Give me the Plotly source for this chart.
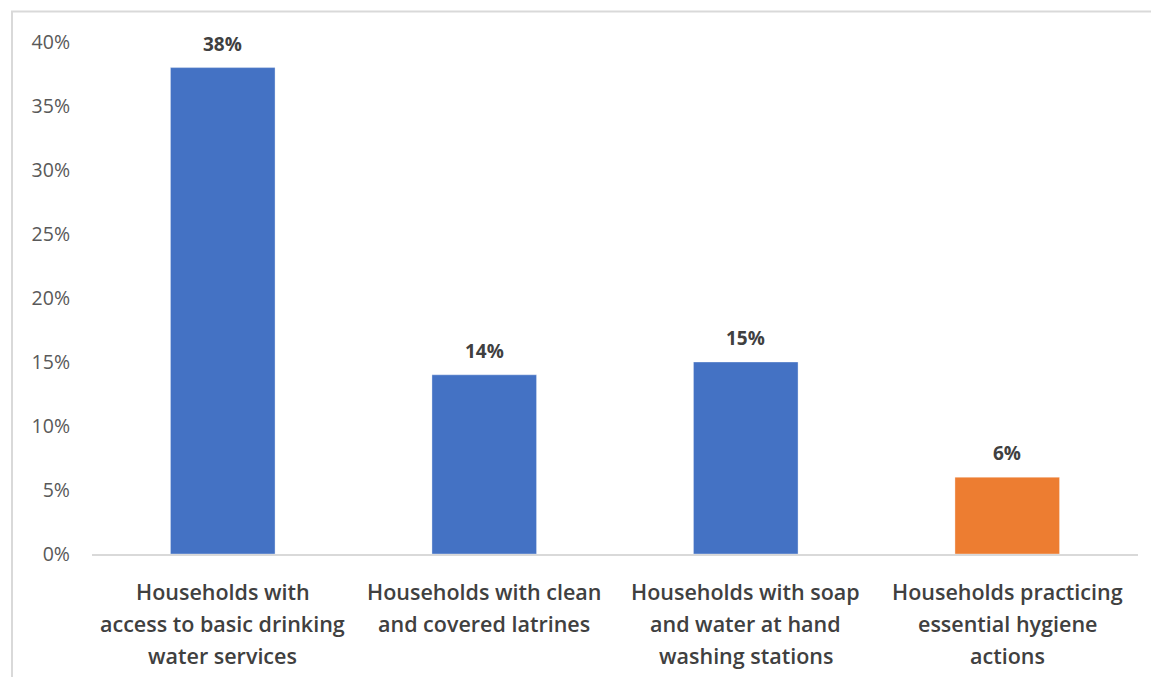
import plotly.graph_objects as go

# WASH indicators for surveyed households
categories = [
    "Households with<br>access to basic drinking<br>water services",
    "Households with clean<br>and covered latrines",
    "Households with soap<br>and water at hand<br>washing stations",
    "Households practicing<br>essential hygiene<br>actions",
]
shares = [0.38, 0.14, 0.15, 0.06]
bar_colors = ["#4472C4", "#4472C4", "#4472C4", "#ED7D31"]
y_ticks = [0, 0.05, 0.10, 0.15, 0.20, 0.25, 0.30, 0.35, 0.40]

W, H = 1151, 677
M_L, M_R, M_T, M_B = 92, 13, 42, 123
FONT = "Open Sans"

fig = go.Figure(
    go.Bar(
        x=list(range(len(categories))),
        y=shares,
        marker=dict(color=bar_colors, line=dict(color="rgba(255,255,255,0.35)", width=1)),
        width=0.4,
        hoverinfo="skip",
    )
)

# value labels above each bar
for i, v in enumerate(shares):
    fig.add_annotation(
        x=i, y=v, text=f"<b>{round(v * 100)}%</b>", showarrow=False,
        yanchor="bottom", yshift=9,
        font=dict(family=FONT, size=19, color="#404040"),
    )

# category labels, one line at a time for Excel-like line spacing
for i, lab in enumerate(categories):
    for j, line in enumerate(lab.split("<br>")):
        fig.add_annotation(
            x=i, y=0, yref="y", text=line, showarrow=False,
            yanchor="middle", yshift=-37 - 32 * j,
            font=dict(family=FONT, size=21.5, color="#404040", weight=600),
        )

plot_w = W - M_L - M_R
plot_h = H - M_T - M_B
# outer chart frame (top and left edges visible)
fig.add_shape(
    type="rect", xref="paper", yref="paper",
    x0=(12 - M_L) / plot_w, x1=(W + 20 - M_L) / plot_w,
    y0=-(H + 20 - M_T - plot_h) / plot_h, y1=1 + (M_T - 11.5) / plot_h,
    line=dict(color="#D9D9D9", width=2), fillcolor="rgba(0,0,0,0)", layer="below",
)

fig.update_layout(
    width=W, height=H,
    margin=dict(l=M_L, r=M_R, t=M_T, b=M_B),
    paper_bgcolor="white", plot_bgcolor="white",
    showlegend=False,
    bargap=0.6,
    xaxis=dict(
        range=[-0.5, 3.5], showticklabels=False, showgrid=False, zeroline=False,
        showline=True, linecolor="#D9D9D9", linewidth=1.5, ticks="",
    ),
    yaxis=dict(
        range=[0, 0.40], tickvals=y_ticks, tickformat=".0%",
        showgrid=False, zeroline=False, showline=False,
        tickfont=dict(family=FONT, size=19.5, color="#595959"),
        ticklabelstandoff=21,
    ),
)

fig.write_html("out.html")
